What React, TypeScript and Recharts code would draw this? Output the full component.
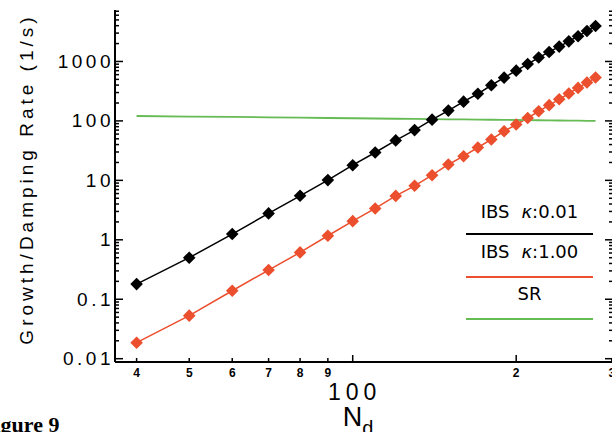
import { Legend, Line, LineChart, XAxis, YAxis } from "recharts";

// N_d sample points (log x axis)
const nd = [40, 50, 60, 70, 80, 90, 100, 110, 120, 130, 140, 150, 160, 170, 180, 190, 200, 210, 220, 230, 240, 250, 260, 270, 280];
// IBS growth rate, kappa 0.01
const ibsLow = [0.18, 0.5, 1.25, 2.78, 5.5, 10.1, 18, 29.4, 47, 70, 105, 149, 211, 286, 398, 534, 700, 905, 1164, 1445, 1780, 2180, 2660, 3250, 3950];
// IBS growth rate, kappa 1.00
const ibsHigh = [0.0186, 0.053, 0.139, 0.31, 0.614, 1.17, 2.06, 3.37, 5.48, 8.1, 12.2, 18.5, 25.5, 35.7, 48.7, 67, 87, 112, 145, 184, 231, 289, 359, 442, 536];
// synchrotron radiation damping
const sr = [121, 118.5, 116.5, 114.8, 113.2, 111.9, 110.8, 109.7, 108.8, 108, 107.2, 106.5, 105.8, 105.2, 104.6, 104.1, 103.5, 103, 102.5, 102.1, 101.6, 101.2, 100.8, 100.4, 100];

const seriesNames = ["IBS κ:0.01", "IBS κ:1.00", "SR"];

const xTicks = [40, 50, 60, 70, 80, 90, 100, 200, 300];
const xTickLabels = ["4", "5", "6", "7", "8", "9", "", "2", "3"];
const yMajor = [0.01, 0.1, 1, 10, 100, 1000];
const yMajorLabels = ["0.01", "0.1", "1", "10", "100", "1000"];
const mantissas = [2, 3, 4, 5, 6, 7, 8, 9];

const X_DOMAIN: [number, number] = [36.5, 301.5];
const Y_DOMAIN: [number, number] = [0.0088, 7340];

const BLACK = "#000000";
const RED = "#eb4f2d";
const GREEN = "#66bb55";

const rows = nd.map((n, i) => ({ n, low: ibsLow[i], high: ibsHigh[i], sr: sr[i] }));

const yTicks = yMajor
  .flatMap((d) => [d, ...mantissas.map((m) => +(m * d).toPrecision(6))])
  .filter((v) => v < Y_DOMAIN[1])
  .sort((a, b) => a - b);

const isMajorY = (v: number) => yMajor.includes(v);
const isMajorX = (v: number) => v === 100 || v === 200;

function Diamond(props: any) {
  const { cx, cy, fill, index } = props;
  if (cx == null || cy == null) return null;
  const r = 6.3;
  return <polygon key={index} points={`${cx},${cy - r} ${cx + r},${cy} ${cx},${cy + r} ${cx - r},${cy}`} fill={fill} />;
}

function BottomTick({ x, y, payload }: any) {
  const i = xTicks.indexOf(payload.value);
  return (
    <g>
      <line x1={x} x2={x} y1={y} y2={y - (isMajorX(payload.value) ? 7 : 4)} stroke={BLACK} strokeWidth={1.5} />
      <text x={x} y={y + 15} textAnchor="middle" fontFamily="Liberation Sans, Arial, sans-serif" fontWeight="bold" fontSize={12}>
        {xTickLabels[i]}
      </text>
      {payload.value === 100 && (
        <text x={x + 2} y={y + 38} textAnchor="middle" fontFamily="Liberation Sans, Arial, sans-serif" fontSize={23} letterSpacing={5}>
          100
        </text>
      )}
    </g>
  );
}

function TopTick({ x, y, payload }: any) {
  return <line x1={x} x2={x} y1={y} y2={y + (isMajorX(payload.value) ? 7 : 4)} stroke={BLACK} strokeWidth={1.5} />;
}

function LeftTick({ x, y, payload }: any) {
  const major = isMajorY(payload.value);
  const label = major ? yMajorLabels[yMajor.indexOf(payload.value)] : "";
  return (
    <g>
      <line x1={x} x2={x + (major ? 8 : 4)} y1={y} y2={y} stroke={BLACK} strokeWidth={1.5} />
      {major && (
        <text x={x - 1} y={y} textAnchor="end" dominantBaseline="central" fontFamily="Liberation Sans, Arial, sans-serif" fontSize={19} letterSpacing={3.5}>
          {label}
        </text>
      )}
    </g>
  );
}

function RightTick({ x, y, payload }: any) {
  const major = isMajorY(payload.value);
  return <line x1={x} x2={x - (major ? 8 : 4)} y1={y} y2={y} stroke={BLACK} strokeWidth={1.5} />;
}

function NdLabel({ viewBox }: any) {
  const cx = viewBox.x + viewBox.width / 2 - 6;
  return (
    <text x={cx} y={viewBox.y + 64} textAnchor="middle" fontFamily="Liberation Sans, Arial, sans-serif" fontSize={27}>
      N
      <tspan fontSize={20} dy={9}>d</tspan>
    </text>
  );
}

function YTitle({ viewBox }: any) {
  const cx = 26;
  const cy = viewBox.y + viewBox.height / 2 - 7;
  return (
    <text
      x={cx}
      y={cy}
      transform={`rotate(-90 ${cx} ${cy})`}
      textAnchor="middle"
      dominantBaseline="central"
      fontFamily="Liberation Sans, Arial, sans-serif"
      fontSize={19}
      letterSpacing={4}
    >
      Growth/Damping Rate (1/s)
    </text>
  );
}

// legend sits inside the plot, lower right
function LegendBox({ payload }: any) {
  const textTops = [0, 40, 81.7];
  const lineTops = [30.7, 74, 116.3];
  return (
    <div style={{ position: "relative", width: 127, height: 125 }}>
      {(payload || []).map((p: any, i: number) => {
        const [pre, post] = String(p.value).split("κ");
        return (
          <div key={i}>
            <div
              style={{
                position: "absolute",
                left: 0,
                top: textTops[i],
                width: 127,
                textAlign: "center",
                fontFamily: "DejaVu Sans, sans-serif",
                fontSize: 18,
                lineHeight: "20px",
                color: "#000",
                whiteSpace: "nowrap",
              }}
            >
              {post === undefined ? (
                pre
              ) : (
                <>
                  {pre.trim()}
                  <span style={{ marginLeft: 12, fontStyle: "italic" }}>κ</span>
                  {post}
                </>
              )}
            </div>
            <div style={{ position: "absolute", left: 0, top: lineTops[i], width: 127, height: 2, background: p.color }} />
          </div>
        );
      })}
    </div>
  );
}

export default function App() {
  return (
    <div style={{ position: "absolute", left: 0, top: 0, width: 612, height: 432, overflow: "hidden", background: "#fff" }}>
      <LineChart width={614} height={432} data={rows} margin={{ top: 10, right: 0, bottom: 0, left: 0 }}>
        <XAxis
          xAxisId="x"
          dataKey="n"
          type="number"
          scale="log"
          domain={X_DOMAIN}
          allowDataOverflow
          ticks={xTicks}
          interval={0}
          height={70}
          tickSize={0}
          tickMargin={0}
          tickLine={false}
          axisLine={{ stroke: BLACK, strokeWidth: 2 }}
          tick={<BottomTick />}
          label={(props: any) => <NdLabel {...props} />}
        />
        <XAxis
          xAxisId="top"
          orientation="top"
          type="number"
          scale="log"
          domain={X_DOMAIN}
          allowDataOverflow
          ticks={xTicks}
          interval={0}
          height={0}
          tickSize={0}
          tickMargin={0}
          tickLine={false}
          axisLine={{ stroke: BLACK, strokeWidth: 2 }}
          tick={<TopTick />}
        />
        <YAxis
          yAxisId="y"
          type="number"
          scale="log"
          domain={Y_DOMAIN}
          allowDataOverflow
          ticks={yTicks}
          interval={0}
          width={115}
          tickSize={0}
          tickMargin={0}
          tickLine={false}
          axisLine={{ stroke: BLACK, strokeWidth: 2 }}
          tick={<LeftTick />}
          label={(props: any) => <YTitle {...props} />}
        />
        <YAxis
          yAxisId="right"
          orientation="right"
          type="number"
          scale="log"
          domain={Y_DOMAIN}
          allowDataOverflow
          ticks={yTicks}
          interval={0}
          width={1}
          tickSize={0}
          tickMargin={0}
          tickLine={false}
          axisLine={{ stroke: BLACK, strokeWidth: 2 }}
          tick={<RightTick />}
        />
        <Legend
          layout="vertical"
          align="center"
          verticalAlign="middle"
          content={<LegendBox />}
          wrapperStyle={{ left: 466, top: 202, width: 127 }}
        />
        <Line
          xAxisId="x"
          yAxisId="y"
          name={seriesNames[0]}
          dataKey="low"
          stroke={BLACK}
          strokeWidth={1.5}
          fill={BLACK}
          dot={(p: any) => <Diamond {...p} fill={BLACK} />}
          activeDot={false}
          isAnimationActive={false}
        />
        <Line
          xAxisId="x"
          yAxisId="y"
          name={seriesNames[1]}
          dataKey="high"
          stroke={RED}
          strokeWidth={1.5}
          fill={RED}
          dot={(p: any) => <Diamond {...p} fill={RED} />}
          activeDot={false}
          isAnimationActive={false}
        />
        <Line
          xAxisId="x"
          yAxisId="y"
          name={seriesNames[2]}
          dataKey="sr"
          stroke={GREEN}
          strokeWidth={1.8}
          dot={false}
          activeDot={false}
          isAnimationActive={false}
        />
      </LineChart>
      <div
        style={{
          position: "absolute",
          left: -19,
          top: 413.6,
          fontFamily: "Liberation Serif, Times New Roman, serif",
          fontWeight: "bold",
          fontSize: 22,
          lineHeight: "22px",
          whiteSpace: "nowrap",
        }}
      >
        Figure 9
      </div>
    </div>
  );
}
